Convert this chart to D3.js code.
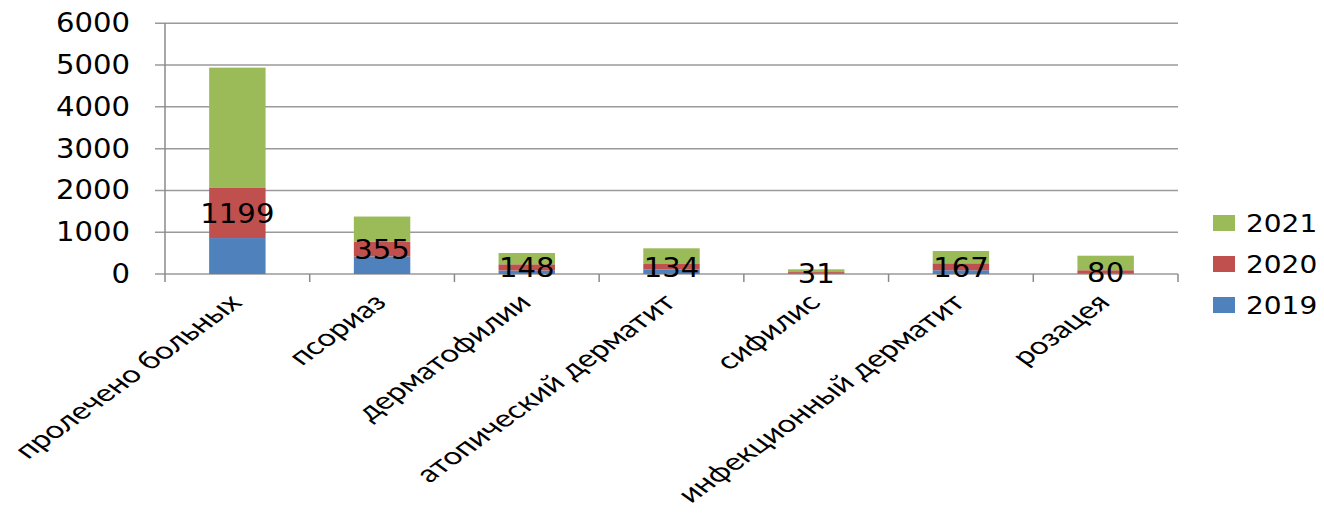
<!DOCTYPE html>
<html>
<head>
<meta charset="utf-8">
<script src="https://cdn.jsdelivr.net/npm/d3@7"></script>
<style>
  html, body { margin: 0; padding: 0; background: #fff; }
  svg { display: block; }
</style>
</head>
<body>
<svg id="chart" width="1324" height="514"></svg>
<script>
// Patients by diagnosis, stacked by year
const categories = [
  "пролечено больных",
  "псориаз",
  "дерматофилии",
  "атопический дерматит",
  "сифилис",
  "инфекционный дерматит",
  "розацея"
];
const years = ["2019", "2020", "2021"];
const values2019 = [860, 420, 84, 105, 15, 89, 10];
const values2020 = [1199, 355, 148, 134, 31, 167, 80];
const values2021 = [2880, 600, 270, 376, 66, 294, 348];
const yTicks = [0, 1000, 2000, 3000, 4000, 5000, 6000];
const colors = { "2019": "#4f81bd", "2020": "#c0504d", "2021": "#9bbb59" };

const rows = categories.map((c, i) => ({
  category: c,
  "2019": values2019[i],
  "2020": values2020[i],
  "2021": values2021[i]
}));

const svg = d3.select("#chart");
const margin = { left: 165, right: 146, top: 23.3, bottom: 240 };
const width = 1324, height = 514;
const plotRight = width - margin.right;
const plotBottom = height - margin.bottom;

const x = d3.scaleBand()
  .domain(categories)
  .range([margin.left, plotRight])
  .paddingInner(0.61)
  .paddingOuter(0.305);

const y = d3.scaleLinear()
  .domain([0, 6000])
  .range([plotBottom, margin.top]);

const numFont = "'DejaVu Sans', Verdana, sans-serif";
const catFont = "Lato, 'Open Sans', sans-serif";

// Horizontal gridlines
svg.append("g")
  .selectAll("line")
  .data(yTicks)
  .join("line")
  .attr("x1", margin.left - 10)
  .attr("x2", plotRight)
  .attr("y1", d => y(d))
  .attr("y2", d => y(d))
  .attr("stroke", "#9a9a9a")
  .attr("stroke-width", 1.5);

// Y axis line
svg.append("line")
  .attr("x1", margin.left).attr("x2", margin.left)
  .attr("y1", y(6000)).attr("y2", plotBottom + 8)
  .attr("stroke", "#8a8a8a").attr("stroke-width", 1.5);

// Category boundary ticks on the x axis
const boundaries = d3.range(categories.length + 1).map(i =>
  margin.left + i * (plotRight - margin.left) / categories.length);
svg.append("g")
  .selectAll("line")
  .data(boundaries.slice(1))
  .join("line")
  .attr("x1", d => d).attr("x2", d => d)
  .attr("y1", plotBottom).attr("y2", plotBottom + 8)
  .attr("stroke", "#8a8a8a").attr("stroke-width", 1.5);

// Y tick labels
svg.append("g")
  .selectAll("text")
  .data(yTicks)
  .join("text")
  .attr("transform", d => `translate(130, ${y(d)}) scale(1.12, 1)`)
  .attr("text-anchor", "end")
  .attr("dominant-baseline", "central")
  .attr("font-family", numFont)
  .attr("font-size", 26)
  .attr("fill", "#000")
  .text(d => d);

// Stacked bars
const stack = d3.stack().keys(years);
const series = stack(rows);

svg.append("g")
  .selectAll("g")
  .data(series)
  .join("g")
  .attr("fill", d => colors[d.key])
  .selectAll("rect")
  .data(d => d)
  .join("rect")
  .attr("x", d => x(d.data.category))
  .attr("width", x.bandwidth())
  .attr("y", d => y(d[1]))
  .attr("height", d => y(d[0]) - y(d[1]));

// Value labels for 2020, centred on that segment
const s2020 = series.find(s => s.key === "2020");
svg.append("g")
  .selectAll("text")
  .data(s2020)
  .join("text")
  .attr("transform", d =>
    `translate(${x(d.data.category) + x.bandwidth() / 2}, ${(y(d[0]) + y(d[1])) / 2 + 1}) scale(1.12, 1)`)
  .attr("text-anchor", "middle")
  .attr("dominant-baseline", "central")
  .attr("font-family", numFont)
  .attr("font-size", 26)
  .attr("fill", "#000")
  .text(d => d.data["2020"]);

// Slanted category labels (45° text, widened horizontally)
svg.append("g")
  .selectAll("text")
  .data(categories)
  .join("text")
  .attr("transform", d =>
    `translate(${x(d) + x.bandwidth() / 2 + 6}, ${plotBottom + 30}) scale(1.38, 1) rotate(-45)`)
  .attr("text-anchor", "end")
  .attr("font-family", catFont)
  .attr("font-size", 24)
  .attr("fill", "#000")
  .text(d => d);

// Legend
const legendYears = ["2021", "2020", "2019"];
const legend = svg.append("g")
  .selectAll("g")
  .data(legendYears)
  .join("g")
  .attr("transform", (d, i) => `translate(1213, ${215 + i * 41})`);
legend.append("rect")
  .attr("width", 22).attr("height", 16)
  .attr("fill", d => colors[d]);
legend.append("text")
  .attr("transform", "translate(33, 8) scale(1.12, 1)")
  .attr("dominant-baseline", "central")
  .attr("font-family", numFont)
  .attr("font-size", 25)
  .attr("fill", "#000")
  .text(d => d);
</script>
</body>
</html>
